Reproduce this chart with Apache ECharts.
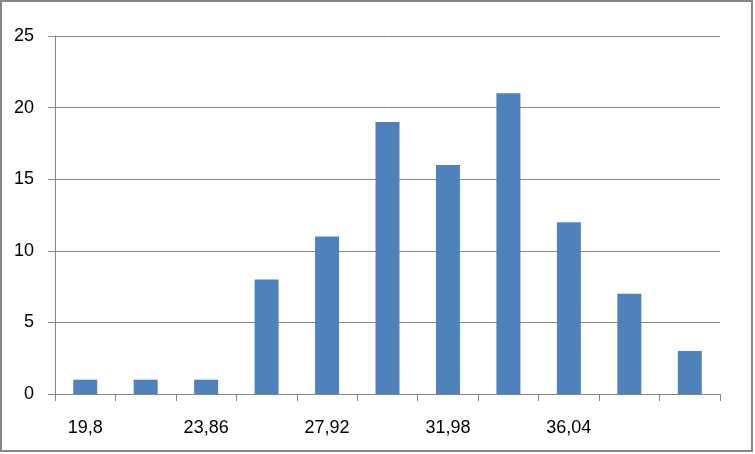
<!DOCTYPE html>
<html>
<head>
<meta charset="utf-8">
<script src="https://cdn.jsdelivr.net/npm/echarts@6/dist/echarts.min.js"></script>
<style>
html,body{margin:0;padding:0;background:#fff;}
#chart{position:absolute;left:0;top:0;width:755px;height:454px;}
#frame{position:absolute;left:0;top:0;width:753px;height:452px;box-sizing:border-box;border:2px solid #868686;pointer-events:none;}
</style>
</head>
<body>
<div id="chart"></div>
<div id="frame"></div>
<script>
const categories = ['19,8','21,83','23,86','25,89','27,92','29,95','31,98','34,01','36,04','38,07','40,1'];
const values = [1,1,1,8,11,19,16,21,12,7,3];
const yTicks = {min:0, max:25, interval:5};
const shownLabels = ['19,8','23,86','27,92','31,98','36,04'];

const chart = echarts.init(document.getElementById('chart'), null, {renderer:'canvas'});
chart.setOption({
  animation:false,
  grid:{left:55, right:35, top:36, bottom:60, containLabel:false},
  xAxis:{
    type:'category',
    data:categories,
    boundaryGap:true,
    axisLine:{show:true, lineStyle:{color:'#868686', width:1}},
    axisTick:{show:true, inside:false, length:7, interval:0, lineStyle:{color:'#868686'}},
    axisLabel:{
      interval:0,
      margin:25,
      color:'#000',
      fontFamily:'Liberation Sans',
      fontSize:18,
      formatter:function(v){return shownLabels.indexOf(v)>=0 ? v : '';}
    },
    splitLine:{show:false}
  },
  yAxis:{
    type:'value',
    min:yTicks.min, max:yTicks.max, interval:yTicks.interval,
    axisLine:{show:true, lineStyle:{color:'#868686', width:1}},
    axisTick:{show:true, inside:false, length:7, lineStyle:{color:'#868686'}},
    axisLabel:{margin:21, color:'#000', fontFamily:'Liberation Sans', fontSize:18},
    splitLine:{show:true, lineStyle:{color:'#868686', width:1}}
  },
  series:[{
    type:'bar',
    data:values,
    barWidth:24,
    itemStyle:{color:'#4F81BD'}
  }]
});
</script>
</body>
</html>
